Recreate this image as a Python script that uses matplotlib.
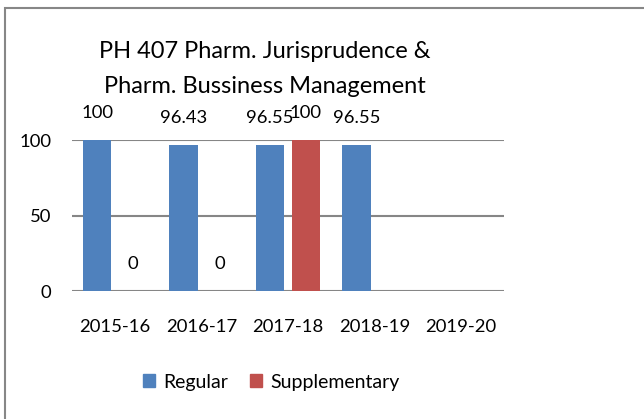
import numpy as np
import matplotlib
matplotlib.use("Agg")
import matplotlib.pyplot as plt
from matplotlib.patches import Rectangle

categories = ["2015-16", "2016-17", "2017-18", "2018-19", "2019-20"]
regular = [100, 96.43, 96.55, 96.55, np.nan]
supplementary = [0, 0, 100, np.nan, np.nan]
regular_labels = ["100", "96.43", "96.55", "96.55", ""]
supp_labels = ["0", "0", "100", "", ""]
title_lines = ["PH 407 Pharm. Jurisprudence &", "Pharm. Bussiness Management"]

plt.rcParams['font.family'] = ['Lato', 'DejaVu Sans']

W, H = 644, 419
fig = plt.figure(figsize=(W / 100, H / 100), dpi=100)
fig.patch.set_facecolor("white")

# outer chart border (only top/left visible in the reference crop)
fig.add_artist(Rectangle((5 / W, -0.05), 1.2, 1 - 8 / H + 0.05, transform=fig.transFigure,
                         fill=False, edgecolor="#878787", linewidth=1.5))

ax = fig.add_axes([72 / W, 1 - 291 / H, 432 / W, 151 / H])
x = np.arange(len(categories))
w = 0.33
off = 0.208
blue = "#4F81BD"
red = "#C0504D"
ax.bar(x - off, regular, w, color=blue, label="Regular")
ax.bar(x + off, supplementary, w, color=red, label="Supplementary")

ax.set_xlim(-0.5, len(categories) - 0.5)
ax.set_ylim(0, 100)
ax.set_yticks([0, 50, 100])
ax.set_xticks(x)
ax.set_xticklabels(categories)
ax.tick_params(axis="both", length=0, labelsize=13.3, colors="black")
ax.tick_params(axis="x", pad=20)
ax.tick_params(axis="y", pad=15)
ax.grid(axis="y", color="#868686", linewidth=1.5)
ax.set_axisbelow(True)
for s in ax.spines.values():
    s.set_visible(False)

for xi, v, lab in zip(x, regular, regular_labels):
    if lab:
        ax.annotate(lab, (xi - off, v), xytext=(0, 19.5), textcoords="offset points",
                    ha="center", va="center", fontsize=13.3)
for xi, v, lab in zip(x, supplementary, supp_labels):
    if lab:
        ax.annotate(lab, (xi + off, v), xytext=(0, 19.5), textcoords="offset points",
                    ha="center", va="center", fontsize=13.3)

fig.text(265 / W, 1 - 51 / H, title_lines[0], ha="center", va="center", fontsize=17)
fig.text(265 / W, 1 - 86 / H, title_lines[1], ha="center", va="center", fontsize=17)

handles = [Rectangle((0, 0), 1, 1, color=blue), Rectangle((0, 0), 1, 1, color=red)]
fig.legend(handles, ["Regular", "Supplementary"], loc="center", bbox_to_anchor=(271 / W, 1 - 382 / H),
           ncol=2, frameon=False, fontsize=14, handlelength=0.65, handleheight=0.65,
           handletextpad=0.4, columnspacing=1.1)

fig.savefig("out.png", dpi=100)
